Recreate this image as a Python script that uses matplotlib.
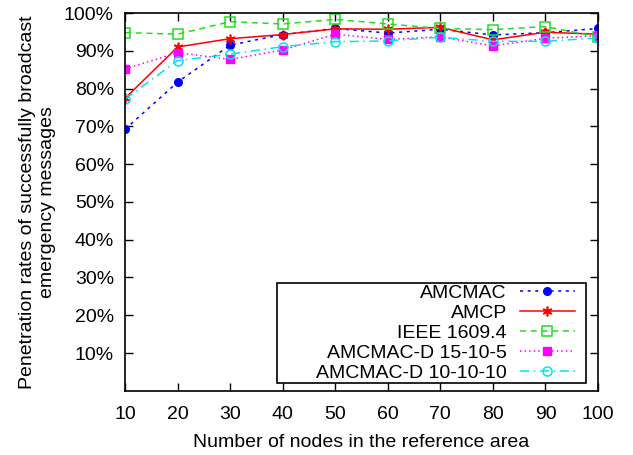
import matplotlib
matplotlib.use("Agg")
import matplotlib.pyplot as plt
from matplotlib.ticker import FuncFormatter
from matplotlib.patches import Rectangle

plt.rcParams['font.family'] = ['Liberation Sans', 'DejaVu Sans']
plt.rcParams['font.size'] = 14

nodes = [10, 20, 30, 40, 50, 60, 70, 80, 90, 100]
amcmac = [69.2, 81.7, 91.5, 94.3, 95.9, 94.7, 95.7, 94.2, 94.8, 95.9]
amcp = [77.4, 91.0, 93.2, 94.3, 95.8, 95.7, 96.2, 92.9, 94.9, 94.4]
ieee = [94.8, 94.4, 97.7, 97.1, 98.3, 97.1, 95.9, 95.6, 96.4, 93.7]
d15105 = [85.2, 89.5, 87.7, 90.2, 94.4, 93.0, 93.7, 91.3, 93.3, 94.0]
d101010 = [77.2, 87.4, 89.1, 91.1, 92.4, 92.6, 93.6, 92.5, 92.5, 93.4]
yticks = [10, 20, 30, 40, 50, 60, 70, 80, 90, 100]

W, H = 633, 455
fig = plt.figure(figsize=(6.33, 4.55), dpi=100)
ax = fig.add_axes([125/W, 1-390.8/H, (598-125)/W, (390.8-13)/H])

ax.plot(nodes, amcmac, color='#0000ff', ls=(0, (2, 3)), lw=1.1, marker='o', ms=5.5, label='AMCMAC')
ax.plot(nodes, amcp, color='#ff0000', ls='-', lw=1.1, marker=(6, 2, 0), ms=7, mew=1.2, label='AMCP')
ax.plot(nodes, ieee, color='#22dd22', ls=(0, (4, 3)), lw=1.1, marker='s', ms=6.5, mfc='none', mew=1.1, label='IEEE 1609.4')
ax.plot(nodes, d15105, color='#ff00ff', ls=(0, (1, 2)), lw=1.1, marker='s', ms=5.5, label='AMCMAC-D 15-10-5')
ax.plot(nodes, d101010, color='#00e5ee', ls=(0, (6, 3, 1, 3)), lw=1.1, marker='o', ms=6.5, mfc='none', mew=1.1, label='AMCMAC-D 10-10-10')

ax.set_xlim(10, 100)
ax.set_ylim(0, 100)
ax.set_xticks(nodes)
ax.set_yticks(yticks)
ax.yaxis.set_major_formatter(FuncFormatter(lambda v, p: f"{int(round(v))}%"))
ax.tick_params(direction='in', top=True, right=True, length=6, width=1)
ax.tick_params(axis='x', pad=11)
ax.tick_params(axis='y', pad=8)
for s in ax.spines.values():
    s.set_linewidth(1.2)

ax.set_xlabel('Number of nodes in the reference area', labelpad=8)
ax.set_ylabel('Penetration rates of successfully broadcast\nemergency messages', labelpad=6, linespacing=1.2)

# legend frame (gnuplot-style box with wide left margin)
box = Rectangle((277/W, 1-383/H), (586-277)/W, (383-283)/H, transform=fig.transFigure,
                facecolor='white', edgecolor='black', lw=1.2, zorder=4)
ax.add_artist(box)
box.set_clip_on(False)

leg = ax.legend(loc='center right', bbox_to_anchor=(575/W, 1-333/H), bbox_transform=fig.transFigure,
                markerfirst=False, frameon=False,
                borderpad=0.0, labelspacing=0.12, handlelength=2.85, handletextpad=0.65,
                borderaxespad=0, fontsize=14)
leg.set_zorder(5)
try:
    for vp in leg._legend_box._children[-1]._children:
        vp.align = 'right'
except Exception:
    pass

fig.savefig('out.png', dpi=100)
